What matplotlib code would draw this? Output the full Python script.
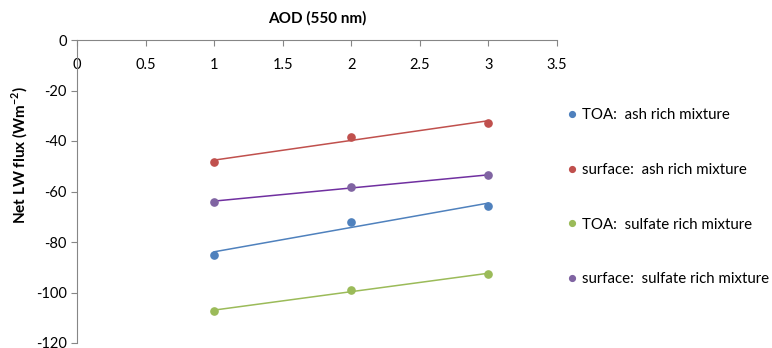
import numpy as np
import matplotlib.pyplot as plt

plt.rcParams['font.family'] = ['Lato', 'DejaVu Sans']
plt.rcParams['axes.unicode_minus'] = False
plt.rcParams['mathtext.fontset'] = 'custom'
plt.rcParams['mathtext.bf'] = 'Lato:bold'
plt.rcParams['mathtext.rm'] = 'Lato'

aod = np.array([1, 2, 3])
toa_ash = np.array([-85.0, -72.0, -65.7])
sfc_ash = np.array([-48.3, -38.3, -32.7])
toa_sulfate = np.array([-107.3, -99.0, -92.7])
sfc_sulfate = np.array([-64.0, -58.2, -53.6])

labels = ['TOA:  ash rich mixture', 'surface:  ash rich mixture',
          'TOA:  sulfate rich mixture', 'surface:  sulfate rich mixture']
series = [toa_ash, sfc_ash, toa_sulfate, sfc_sulfate]
colors = ['#4F81BD', '#C0504D', '#9BBB59', '#8064A2']
trend_colors = ['#4F81BD', '#C0504D', '#9BBB59', '#7030A0']

fig = plt.figure(figsize=(7.72, 3.48), dpi=100)
ax = fig.add_axes([77/772, 1 - 343/348, 480/772, 303/348])

for y, c, tc, lab in zip(series, colors, trend_colors, labels):
    # linear trendline through the three points
    k, b = np.polyfit(aod, y, 1)
    ax.plot(aod, k * aod + b, color=tc, lw=1.1, zorder=2)
    ax.plot(aod, y, 'o', color=c, ms=5.2, label=lab, zorder=3)

ax.set_xlim(0, 3.5)
ax.set_ylim(-120, 0)
ax.set_xticks(np.arange(0, 3.51, 0.5))
ax.set_xticklabels(['0', '0.5', '1', '1.5', '2', '2.5', '3', '3.5'])
ax.set_yticks(np.arange(-120, 1, 20))

gray = '#868686'
for s in ['bottom', 'right']:
    ax.spines[s].set_visible(False)
ax.spines['top'].set_color(gray)
ax.spines['left'].set_color(gray)
ax.xaxis.set_ticks_position('top')
ax.tick_params(axis='x', direction='in', length=4, color=gray, pad=-23,
               labelsize=10.5)
ax.tick_params(axis='y', direction='out', length=4, color=gray, labelsize=10.5)

fig.text(317/772, 1 - 18/348, 'AOD (550 nm)', ha='center', va='center',
         fontsize=11, fontweight='bold')
fig.text(20/772, 1 - 155/348, 'Net LW flux (Wm$^{\\mathbf{-2}}$)', rotation=90,
         ha='center', va='center', fontsize=11, fontweight='bold')

ax.legend(loc='upper left', bbox_to_anchor=(569/772, 1 - 108/348),
          bbox_transform=fig.transFigure, frameon=False, handlelength=0.4,
          handletextpad=0.45, labelspacing=2.72, fontsize=10.8,
          markerscale=0.8, borderaxespad=0, borderpad=0)

fig.savefig('out.png', dpi=100)
